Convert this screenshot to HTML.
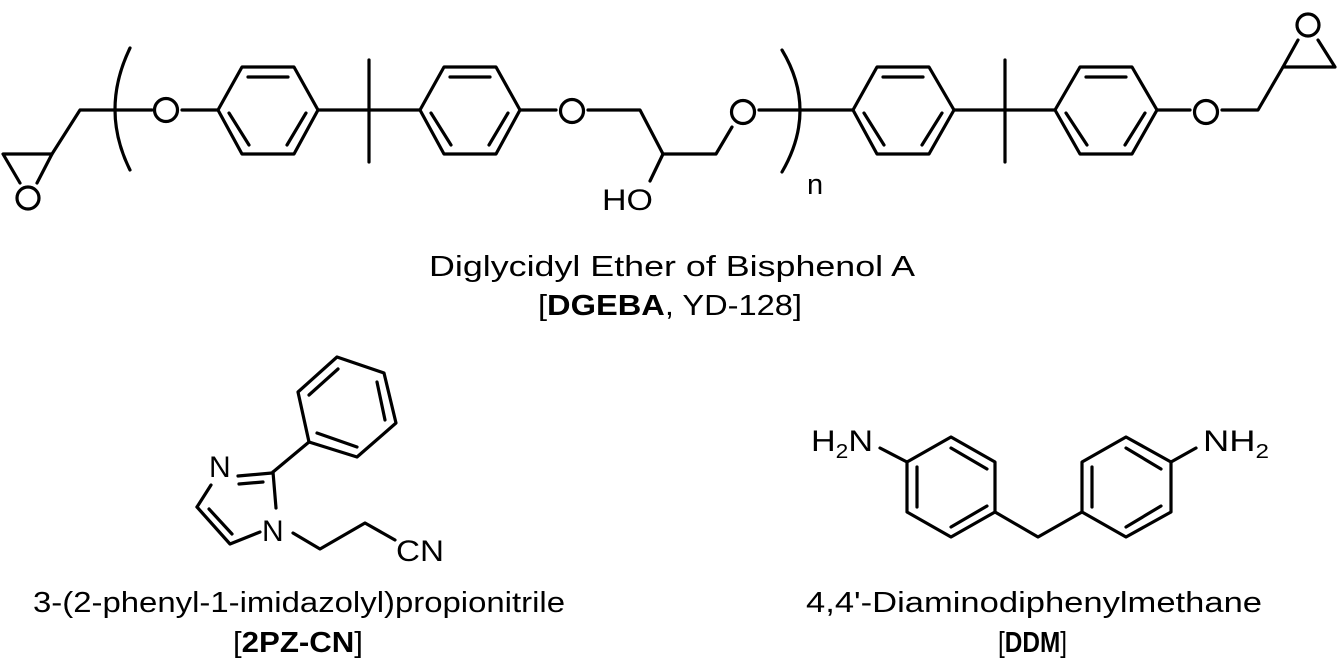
<!DOCTYPE html>
<html><head><meta charset="utf-8"><style>
html,body{margin:0;padding:0;background:#fff;width:1339px;height:668px;overflow:hidden}
svg{display:block}
text{font-family:"Liberation Sans",Arial,sans-serif;fill:#000}
</style></head><body>
<svg width="1339" height="668" viewBox="0 0 1339 668">
<g stroke="#000" stroke-width="3.2" fill="none" stroke-linecap="round" stroke-linejoin="round">
<polyline points="20,183 3,154 52,154 37,183"/>
<circle cx="28" cy="198" r="11"/>
<polyline points="52,154 80,110 152,110"/>
<path d="M130,48 Q100,110 130,170"/>
<circle cx="166" cy="110" r="11.5"/>
<line x1="182" y1="110" x2="218" y2="110"/>
<polygon points="218,110 242,67 294,67 318,110 294,154 242,154"/>
<line x1="248" y1="77" x2="288" y2="77"/>
<line x1="229" y1="113" x2="249" y2="145"/>
<line x1="287" y1="145" x2="306" y2="113"/>
<line x1="318" y1="110" x2="420" y2="110"/>
<line x1="369" y1="60" x2="369" y2="162"/>
<polygon points="420,110 444,67 496,67 520,110 496,154 444,154"/>
<line x1="450" y1="77" x2="490" y2="77"/>
<line x1="431" y1="113" x2="451" y2="145"/>
<line x1="489" y1="145" x2="508" y2="113"/>
<line x1="520" y1="110" x2="556" y2="110"/>
<circle cx="572" cy="111" r="11.5"/>
<polyline points="588,110 640,110 663,154 716,154 732,127"/>
<line x1="663" y1="154" x2="650" y2="181"/>
<circle cx="743" cy="112" r="11.5"/>
<line x1="759" y1="110" x2="853" y2="110"/>
<path d="M782,50 Q818,110 782,172"/>
<polygon points="853,110 877,67 929,67 954,110 929,154 877,154"/>
<line x1="883" y1="77" x2="923" y2="77"/>
<line x1="864" y1="113" x2="884" y2="145"/>
<line x1="922" y1="145" x2="942" y2="113"/>
<line x1="954" y1="110" x2="1055" y2="110"/>
<line x1="1005" y1="60" x2="1005" y2="162"/>
<polygon points="1055,110 1080,67 1132,67 1157,110 1132,154 1080,154"/>
<line x1="1086" y1="77" x2="1126" y2="77"/>
<line x1="1066" y1="113" x2="1087" y2="145"/>
<line x1="1125" y1="145" x2="1145" y2="113"/>
<line x1="1157" y1="110" x2="1190" y2="110"/>
<circle cx="1206" cy="112" r="11.5"/>
<polyline points="1222,110 1258,110 1283,67 1335,67 1318,40"/>
<line x1="1283" y1="67" x2="1298" y2="40"/>
<circle cx="1308" cy="25" r="11"/>
<polygon points="298,392 337,357 384,373 396,423 357,457 309,442"/>
<line x1="309" y1="395" x2="338" y2="369"/>
<line x1="377" y1="382" x2="385" y2="420"/>
<line x1="317" y1="433" x2="357" y2="447"/>
<line x1="309" y1="442" x2="273" y2="472"/>
<line x1="238" y1="476" x2="272" y2="473"/>
<line x1="239" y1="484" x2="263" y2="482"/>
<line x1="211" y1="485" x2="197" y2="507"/>
<polyline points="197,507 230,544 260,532"/>
<line x1="209" y1="509" x2="232" y2="534"/>
<line x1="273" y1="472" x2="276" y2="508"/>
<polyline points="293,533 320,549 365,523 395,540"/>
<polygon points="907,462 951,437 995,462 995,512 951,537 907,512"/>
<line x1="951" y1="448" x2="987" y2="469"/>
<line x1="917" y1="467" x2="917" y2="507"/>
<line x1="951" y1="527" x2="987" y2="506"/>
<polyline points="995,512 1038,537 1082,512"/>
<polygon points="1082,462 1126,437 1171,462 1171,512 1126,537 1082,512"/>
<line x1="1092" y1="467" x2="1092" y2="507"/>
<line x1="1126" y1="448" x2="1161" y2="469"/>
<line x1="1126" y1="527" x2="1161" y2="506"/>
<line x1="880" y1="448" x2="907" y2="462"/>
<line x1="1171" y1="462" x2="1196" y2="448"/>
</g>
<g font-size="30">
<text x="602" y="210" textLength="51" lengthAdjust="spacingAndGlyphs">HO</text>
<text x="807" y="194" font-size="29">n</text>
<text x="209" y="477">N</text>
<text x="262" y="541">N</text>
<text x="396" y="561" textLength="48" lengthAdjust="spacingAndGlyphs">CN</text>
<text x="811" y="451" textLength="62" lengthAdjust="spacingAndGlyphs">H<tspan font-size="20" dy="7">2</tspan><tspan dy="-7">N</tspan></text>
<text x="1203" y="451" textLength="66" lengthAdjust="spacingAndGlyphs">NH<tspan font-size="20" dy="7">2</tspan></text>
</g>
<g font-size="29">
<text x="429" y="276" textLength="486" lengthAdjust="spacingAndGlyphs">Diglycidyl Ether of Bisphenol A</text>
<text x="538" y="315" textLength="264" lengthAdjust="spacingAndGlyphs">[<tspan font-weight="bold">DGEBA</tspan>, YD-128]</text>
<text x="33" y="612" textLength="532" lengthAdjust="spacingAndGlyphs">3-(2-phenyl-1-imidazolyl)propionitrile</text>
<text x="233" y="652" textLength="130" lengthAdjust="spacingAndGlyphs">[<tspan font-weight="bold">2PZ-CN</tspan>]</text>
<text x="806" y="612" textLength="456" lengthAdjust="spacingAndGlyphs">4,4'-Diaminodiphenylmethane</text>
<text x="998" y="652" textLength="69" lengthAdjust="spacingAndGlyphs">[<tspan font-weight="bold">DDM</tspan>]</text>
</g>
</svg>
</body></html>
